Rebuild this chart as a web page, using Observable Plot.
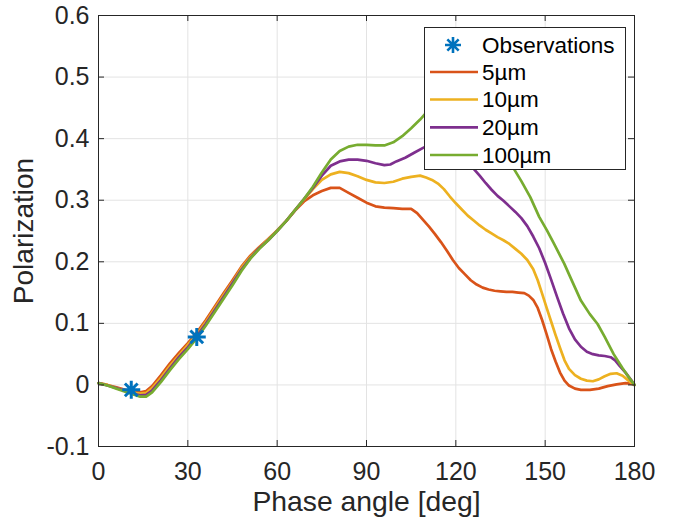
<!DOCTYPE html>
<html>
<head>
<meta charset="utf-8">
<script src="https://cdn.jsdelivr.net/npm/d3@7"></script>
<script src="https://cdn.jsdelivr.net/npm/@observablehq/plot@0.6"></script>
<style>
  html, body { margin: 0; padding: 0; background: #fff; }
</style>
</head>
<body>
<script>
// ---------- data ----------
const xTicks = [0, 30, 60, 90, 120, 150, 180];
const yTicks = [-0.1, 0, 0.1, 0.2, 0.3, 0.4, 0.5, 0.6];
const yTickLabels = ["-0.1", "0", "0.1", "0.2", "0.3", "0.4", "0.5", "0.6"];

const seriesNames = ["5µm", "10µm", "20µm", "100µm"];
const seriesColors = ["#D95319", "#EDB120", "#7E2F8E", "#77AC30"];

const obsAngles = [11, 33];
const obsPol = [-0.008, 0.078];

const angles5 = [0,3,6,9,12,14,16,18,21,24,27,30,33,36,39,42,45,48,51,54,57,60,63,66,69,72,75,78,81,84,87,90,93,96,99,102,105,107,109,111,113,115,117,119,121,123,125,127,129,131,133,135,137,139,141,143,144.5,146,147.5,149,150.5,152,153.5,155,156.5,158,160,162,165,168,171,174,177,179,180];
const pol5 = [0.003,0.000,-0.004,-0.008,-0.011,-0.012,-0.010,-0.002,0.016,0.035,0.052,0.068,0.085,0.105,0.127,0.149,0.170,0.192,0.210,0.224,0.237,0.251,0.266,0.283,0.298,0.308,0.315,0.320,0.320,0.312,0.304,0.296,0.290,0.288,0.287,0.286,0.286,0.279,0.268,0.257,0.245,0.232,0.218,0.203,0.190,0.180,0.170,0.163,0.158,0.155,0.153,0.152,0.151,0.151,0.150,0.149,0.145,0.138,0.125,0.105,0.082,0.058,0.038,0.020,0.007,-0.001,-0.006,-0.008,-0.008,-0.006,-0.002,0.001,0.003,0.002,0.000];

const angles10 = [0,3,6,9,12,14,16,18,21,24,27,30,33,36,39,42,45,48,51,54,57,60,63,66,69,72,75,78,81,84,87,90,93,96,99,102,105,108,110,112,114,116,118,120,122,124,126,128,130,132,134,136,138,140,142,144,146,147.5,149,150.5,152,153.5,155,156.5,158,160,162,164,166,168,170,172,174,176,178,180];
const pol10 = [0.003,0.000,-0.005,-0.009,-0.013,-0.014,-0.013,-0.005,0.012,0.031,0.048,0.065,0.082,0.102,0.124,0.146,0.167,0.190,0.208,0.223,0.236,0.251,0.266,0.284,0.301,0.318,0.333,0.342,0.346,0.344,0.339,0.333,0.329,0.328,0.330,0.335,0.338,0.340,0.337,0.333,0.327,0.318,0.306,0.295,0.285,0.275,0.267,0.259,0.252,0.246,0.240,0.235,0.229,0.221,0.213,0.203,0.188,0.170,0.148,0.125,0.103,0.081,0.060,0.040,0.026,0.016,0.010,0.007,0.006,0.009,0.014,0.018,0.019,0.015,0.007,0.000];

const angles20 = [0,3,6,9,12,14,16,18,21,24,27,30,33,36,39,42,45,48,51,54,57,60,63,66,69,72,75,78,81,84,87,90,93,96,98,100,103,106,109,112,115,118,121,124,126,128,130,132,134,136,138,140,142,144,146,148,150,152,154,156,158,160,162,164,166,168,170,172,173.5,175,177,179,180];
const pol20 = [0.003,-0.001,-0.005,-0.010,-0.015,-0.017,-0.016,-0.009,0.008,0.027,0.045,0.061,0.079,0.099,0.121,0.143,0.165,0.187,0.206,0.222,0.235,0.250,0.266,0.284,0.302,0.320,0.340,0.356,0.363,0.366,0.366,0.364,0.360,0.357,0.358,0.363,0.369,0.377,0.385,0.392,0.396,0.395,0.385,0.365,0.351,0.340,0.328,0.317,0.307,0.299,0.290,0.281,0.271,0.258,0.241,0.222,0.198,0.171,0.143,0.116,0.092,0.074,0.062,0.054,0.050,0.048,0.047,0.045,0.040,0.031,0.020,0.007,0.000];

const angles100 = [0,3,6,9,12,14,16,18,21,24,27,30,33,36,39,42,45,48,51,54,57,60,63,66,69,72,75,78,81,84,87,90,93,96,99,102,105,108,110,113,116,119,122,125,128,131,134,137,139.5,142,145,148,150.6,153,156.4,159,162,165,167.6,170,173,176,178,180];
const pol100 = [0.003,-0.001,-0.006,-0.011,-0.016,-0.019,-0.019,-0.012,0.005,0.024,0.042,0.058,0.076,0.096,0.118,0.140,0.162,0.185,0.205,0.221,0.235,0.250,0.266,0.284,0.302,0.322,0.345,0.366,0.380,0.387,0.390,0.390,0.389,0.389,0.394,0.404,0.417,0.431,0.442,0.455,0.465,0.470,0.468,0.458,0.445,0.425,0.400,0.372,0.351,0.331,0.305,0.273,0.251,0.229,0.197,0.169,0.137,0.115,0.099,0.078,0.050,0.027,0.013,0.000];

// ---------- build tables ----------
const seriesAngles = [angles5, angles10, angles20, angles100];
const seriesPol = [pol5, pol10, pol20, pol100];
const curves = seriesNames.map((name, k) =>
  seriesAngles[k].map((a, i) => ({angle: a, pol: seriesPol[k][i], name}))
);
const obs = obsAngles.map((a, i) => ({angle: a, pol: obsPol[i]}));

// MATLAB-like '*' marker: plus + cross (8 arms)
const asterisk = {
  draw(context, size) {
    const r = Math.sqrt(size / Math.PI);
    for (let k = 0; k < 4; k++) {
      const t = k * Math.PI / 4;
      const c = Math.cos(t) * r, s = Math.sin(t) * r;
      context.moveTo(c, s);
      context.lineTo(-c, -s);
    }
  }
};

const W = 673, H = 521;
const mL = 98, mR = 39, mT = 15, mB = 75;
const plotW = W - mL - mR, plotH = H - mT - mB;
const axisColor = "#262626";
const gridColor = "#e3e3e3";
const font = "'Liberation Sans', Arial, Helvetica, sans-serif";
const starColor = "#0072BD";

const chart = Plot.plot({
  width: W,
  height: H,
  marginLeft: mL,
  marginRight: mR,
  marginTop: mT,
  marginBottom: mB,
  style: {fontFamily: font, fontSize: "25px", color: axisColor, background: "#fff", overflow: "visible"},
  x: {domain: [0, 180]},
  y: {domain: [-0.1, 0.6]},
  marks: [
    Plot.ruleX(xTicks.slice(1, -1), {x: d => d, stroke: gridColor, strokeWidth: 1}),
    Plot.ruleY(yTicks.slice(1, -1), {y: d => d, stroke: gridColor, strokeWidth: 1}),
    ...curves.map((c, k) => Plot.line(c, {x: "angle", y: "pol", stroke: seriesColors[k], strokeWidth: 2.7})),
    Plot.dot(obs, {x: "angle", y: "pol", symbol: asterisk, r: 9, fill: "none", stroke: starColor, strokeWidth: 3}),
    Plot.frame({stroke: axisColor, strokeWidth: 1}),
    // inward ticks (bottom, top, left, right)
    Plot.ruleX(xTicks, {x: d => d, insetTop: plotH - 6, stroke: axisColor}),
    Plot.ruleX(xTicks, {x: d => d, insetBottom: plotH - 6, stroke: axisColor}),
    Plot.ruleY(yTicks, {y: d => d, insetRight: plotW - 6, stroke: axisColor}),
    Plot.ruleY(yTicks, {y: d => d, insetLeft: plotW - 6, stroke: axisColor}),
    Plot.axisX({ticks: xTicks, tickSize: 0, tickPadding: 16, fontSize: 25, label: null, fill: axisColor, tickFormat: d => String(d)}),
    Plot.axisY({ticks: yTicks, tickSize: 0, tickPadding: 9, fontSize: 25, label: null, fill: axisColor,
      tickFormat: d => yTickLabels[yTicks.indexOf(d)]}),
    Plot.text(["Phase angle [deg]"], {frameAnchor: "bottom", textAnchor: "middle", lineAnchor: "top", dy: 44, fontSize: 28.3, fill: axisColor}),
    Plot.text(["Polarization"], {frameAnchor: "left", textAnchor: "middle", lineAnchor: "middle", rotate: -90, dx: -74, fontSize: 28, fill: axisColor})
  ]
});

document.body.appendChild(chart);

// ---------- legend (inside plot, top-right) ----------
const legendLabels = ["Observations", ...seriesNames];
const svg = d3.select(chart);
const g = svg.append("g")
  .attr("font-family", font).attr("font-size", 22.5).attr("text-anchor", "start");
g.append("rect")
  .attr("x", 424.5).attr("y", 27.5).attr("width", 201).attr("height", 142)
  .attr("fill", "#fff").attr("stroke", axisColor).attr("stroke-width", 1);
const rowY = [45, 72, 99.5, 127.3, 155];
legendLabels.forEach((lab, i) => {
  const y = rowY[i];
  if (i === 0) {
    g.append("path")
      .attr("d", d3.symbol(asterisk, Math.PI * 64)())
      .attr("transform", `translate(453,${y})`)
      .attr("fill", "none").attr("stroke", starColor).attr("stroke-width", 2.6);
  } else {
    g.append("line")
      .attr("x1", 430).attr("x2", 478).attr("y1", y).attr("y2", y)
      .attr("stroke", seriesColors[i - 1]).attr("stroke-width", 2.7);
  }
  g.append("text")
    .attr("x", 482).attr("y", y).attr("dy", "0.35em")
    .attr("text-anchor", "start")
    .attr("fill", "#000").text(lab);
});
</script>
</body>
</html>
